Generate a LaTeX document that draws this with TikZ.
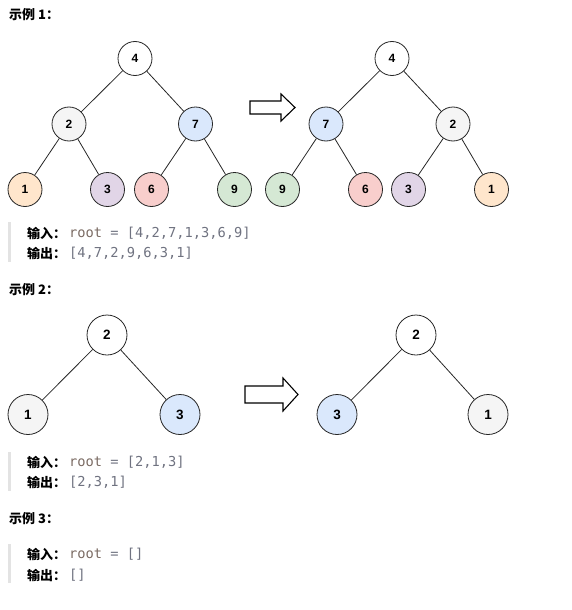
\documentclass[tikz,border=0pt]{standalone}
\usepackage{fontspec}
\setmainfont{Liberation Sans}
\newfontfamily\cjkfont{Noto Sans CJK SC}
\newfontfamily\codefont{DejaVu Sans Mono}
\usetikzlibrary{positioning}

\definecolor{nodegray}{HTML}{F5F5F5}
\definecolor{nodeblue}{HTML}{DAE8FC}
\definecolor{nodeorange}{HTML}{FFE6CC}
\definecolor{nodepurple}{HTML}{E1D5E7}
\definecolor{nodered}{HTML}{F8CECC}
\definecolor{nodegreen}{HTML}{D5E8D4}
\definecolor{barcolor}{HTML}{E3E3E3}
\definecolor{rootcolor}{HTML}{7A6A62}
\definecolor{listcolor}{HTML}{6F7280}

\tikzset{
  tnode/.style={circle,draw=black!85,line width=0.8pt,fill=white,minimum size=34pt,
    inner sep=0pt,font=\bfseries\fontsize{12}{12}\selectfont},
  bignode/.style={tnode,minimum size=40pt,font=\bfseries\fontsize{13.5}{14}\selectfont},
  link/.style={line width=0.8pt,draw=black!85},
  blockarrow/.style={line width=1.1pt,draw=black,fill=white,line join=miter},
  heading/.style={anchor=west,inner sep=0pt,font=\cjkfont\bfseries\fontsize{13}{13}\selectfont},
  tag/.style={anchor=west,inner sep=0pt,font=\cjkfont\bfseries\fontsize{13}{13}\selectfont},
  code/.style={anchor=west,inner sep=0pt,text=listcolor,font=\codefont\fontsize{13.7}{14}\selectfont},
}

\newcommand{\rootword}{\textcolor{rootcolor}{root} =}

\begin{document}
\begin{tikzpicture}[x=1pt,y=-1pt]
       \useasboundingbox (0,0) rectangle (572,610);

       % example 1
       \node[heading] (title1) at (9,14.5) {示例 1：};
       \node[tnode] (a4) at (135,58.5) {4};
       \node[tnode,fill=nodegray] (a2) at (69,124) {2};
       \node[tnode,fill=nodeblue] (a7) at (195.5,124) {7};
       \node[tnode,fill=nodeorange] (a1) at (25,189.5) {1};
       \node[tnode,fill=nodepurple] (a3) at (107.5,189.5) {3};
       \node[tnode,fill=nodered] (a6) at (151.5,189.5) {6};
       \node[tnode,fill=nodegreen] (a9) at (234.5,189.5) {9};
       \draw[link] (a4) -- (a2);
       \draw[link] (a4) -- (a7);
       \draw[link] (a2) -- (a1);
       \draw[link] (a2) -- (a3);
       \draw[link] (a7) -- (a6);
       \draw[link] (a7) -- (a9);

       \draw[blockarrow] (250,101) -- (281,101) -- (281,94) -- (295,107.5)
         -- (281,121) -- (281,114) -- (250,114) -- cycle;

       \node[tnode] (b4) at (392,58.5) {4};
       \node[tnode,fill=nodeblue] (b7) at (326,124) {7};
       \node[tnode,fill=nodegray] (b2) at (453,124) {2};
       \node[tnode,fill=nodegreen] (b9) at (282.5,189.5) {9};
       \node[tnode,fill=nodered] (b6) at (365.5,189.5) {6};
       \node[tnode,fill=nodepurple] (b3) at (408.5,189.5) {3};
       \node[tnode,fill=nodeorange] (b1) at (491.5,189.5) {1};
       \draw[link] (b4) -- (b7);
       \draw[link] (b4) -- (b2);
       \draw[link] (b7) -- (b9);
       \draw[link] (b7) -- (b6);
       \draw[link] (b2) -- (b3);
       \draw[link] (b2) -- (b1);

       \fill[barcolor] (8,222) rectangle (11,262);
       \node[tag] (in1) at (27,233) {输入：};
       \node[code] (in1val) at (69,233) {\rootword{} [4,2,7,1,3,6,9]};
       \node[tag] (out1) at (27,253) {输出：};
       \node[code] (out1val) at (69,253) {[4,7,2,9,6,3,1]};

       % example 2
       \node[heading] (title2) at (9,290) {示例 2：};
       \node[bignode] (c2) at (107,335) {2};
       \node[bignode,fill=nodegray] (c1) at (28,414.5) {1};
       \node[bignode,fill=nodeblue] (c3) at (180,414.5) {3};
       \draw[link] (c2) -- (c1);
       \draw[link] (c2) -- (c3);

       \draw[blockarrow] (245,386) -- (283,386) -- (283,378) -- (298,394.5)
         -- (283,411) -- (283,403) -- (245,403) -- cycle;

       \node[bignode] (d2) at (416,335) {2};
       \node[bignode,fill=nodeblue] (d3) at (337,414.5) {3};
       \node[bignode,fill=nodegray] (d1) at (488,414.5) {1};
       \draw[link] (d2) -- (d3);
       \draw[link] (d2) -- (d1);

       \fill[barcolor] (8,452) rectangle (11,491);
       \node[tag] (in2) at (27,462) {输入：};
       \node[code] (in2val) at (69,462) {\rootword{} [2,1,3]};
       \node[tag] (out2) at (27,482) {输出：};
       \node[code] (out2val) at (69,482) {[2,3,1]};

       % example 3
       \node[heading] (title3) at (9,519) {示例 3：};
       \fill[barcolor] (8,544) rectangle (11,583);
       \node[tag] (in3) at (27,554) {输入：};
       \node[code] (in3val) at (69,554) {\rootword{} []};
       \node[tag] (out3) at (27,575) {输出：};
       \node[code] (out3val) at (69,575) {[]};
\end{tikzpicture}
\end{document}
